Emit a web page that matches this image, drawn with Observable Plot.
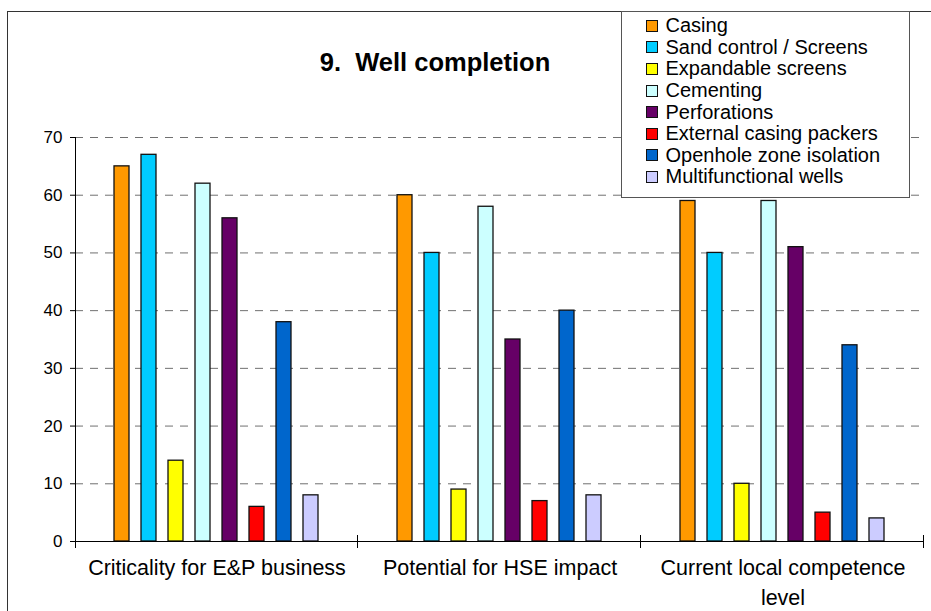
<!DOCTYPE html>
<html>
<head>
<meta charset="utf-8">
<script src="https://cdn.jsdelivr.net/npm/d3@7"></script>
<script src="https://cdn.jsdelivr.net/npm/@observablehq/plot@0.6"></script>
<style>
  html, body { margin: 0; padding: 0; background: #fff; overflow: hidden; }
  #chart { position: relative; width: 931px; height: 611px; font-family: "Liberation Sans", Arial, sans-serif; color: #000; }
  #chart svg { position: absolute; left: 0; top: 0; }
  #outline { position: absolute; left: 7px; top: 11px; width: 1000px; height: 1000px;
             border-left: 1.5px solid #333; border-top: 1.5px solid #333; pointer-events: none; }
  #title { position: absolute; left: 0; top: 50px; width: 870px; text-align: center;
           font-weight: bold; font-size: 25.5px; line-height: 25px; white-space: pre; }
  #legend { position: absolute; left: 621px; top: 11px; width: 287px; height: 182px;
            border: 1.5px solid #555; background: #fff; box-sizing: content-box;
            padding-top: 3px; }
  .item { display: flex; align-items: center; height: 21.6px; font-size: 20px; white-space: nowrap; }
  .swatch { width: 10px; height: 10px; border: 1.3px solid #111; margin-left: 23.5px; margin-right: 8px; flex: none; }
</style>
</head>
<body>
<div id="chart"></div>
<script>
// Well completion survey: scores per technology area for three assessment criteria
const categories = ["Criticality for E&P business", "Potential for HSE impact", "Current local competence level"];
const series = [
  "Casing",
  "Sand control / Screens",
  "Expandable screens",
  "Cementing",
  "Perforations",
  "External casing packers",
  "Openhole zone isolation",
  "Multifunctional wells"
];
const colors = ["#FF9900", "#00CCFF", "#FFFF00", "#CCFFFF", "#660066", "#FF0000", "#0066CC", "#CCCCFF"];

const criticality     = [65, 67, 14, 62, 56, 6, 38, 8];
const hseImpact       = [60, 50, 9, 58, 35, 7, 40, 8];
const localCompetence = [59, 50, 10, 59, 51, 5, 34, 4];

const yTicks = [0, 10, 20, 30, 40, 50, 60, 70];
const title = "9.  Well completion";

const valuesByCategory = [criticality, hseImpact, localCompetence];
const rows = categories.flatMap((group, i) =>
  series.map((s, j) => ({group, series: s, value: valuesByCategory[i][j]}))
);

const chart = Plot.plot({
  width: 931,
  height: 611,
  marginLeft: 75,
  marginRight: 7,
  marginTop: 137,
  marginBottom: 70,
  style: {fontFamily: "'Liberation Sans', Arial, sans-serif", background: "transparent", overflow: "visible"},
  fx: {domain: categories, padding: 0, label: null, axis: null},
  x: {domain: series, paddingInner: 0.44, paddingOuter: 1.34, axis: null},
  y: {domain: [0, 70], axis: null},
  color: {domain: series, range: colors},
  marks: [
    Plot.gridY(yTicks.slice(1), {stroke: "#707070", strokeOpacity: 1, strokeDasharray: "8,7"}),
    Plot.barY(rows, {fx: "group", x: "series", y: "value", fill: "series", stroke: "#111", strokeWidth: 1.3}),
    Plot.ruleY([0], {stroke: "#000"}),
    Plot.axisY({ticks: yTicks, tickSize: 5, tickPadding: 8, fontSize: 17, label: null}),
    Plot.axisFx({anchor: "bottom", tickSize: 0, tickPadding: 13, fontSize: 21.5, lineWidth: 14, lineHeight: 1.36, label: null})
  ]
});

const root = document.getElementById("chart");
root.appendChild(chart);

// Value axis line and the cross ticks that separate the category groups
const fx = chart.scale("fx");
const y = chart.scale("y");
const svg = d3.select(chart);
const edges = categories.map(c => fx.apply(c));
edges.push(fx.apply(categories[categories.length - 1]) + fx.bandwidth);
const y0 = y.apply(0);
const yTop = y.apply(yTicks[yTicks.length - 1]);
const deco = svg.append("g").attr("stroke", "#000").attr("stroke-width", 1);
deco.append("line")
  .attr("x1", edges[0] + 0.5).attr("x2", edges[0] + 0.5)
  .attr("y1", yTop).attr("y2", y0 + 7);
deco.selectAll(".sep").data(edges.slice(1)).join("line")
  .attr("x1", d => Math.round(d) - 0.5).attr("x2", d => Math.round(d) - 0.5)
  .attr("y1", y0 - 6).attr("y2", y0 + 7);

// Chart outline, title and legend
const outline = document.createElement("div");
outline.id = "outline";
root.appendChild(outline);

const titleDiv = document.createElement("div");
titleDiv.id = "title";
titleDiv.textContent = title;
root.appendChild(titleDiv);

const legend = document.createElement("div");
legend.id = "legend";
series.forEach((s, i) => {
  const item = document.createElement("div");
  item.className = "item";
  const sw = document.createElement("span");
  sw.className = "swatch";
  sw.style.background = colors[i];
  const label = document.createElement("span");
  label.textContent = s;
  item.appendChild(sw);
  item.appendChild(label);
  legend.appendChild(item);
});
root.appendChild(legend);
</script>
</body>
</html>
